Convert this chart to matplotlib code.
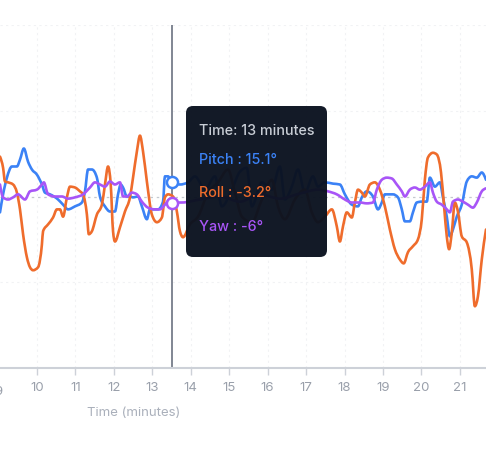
import numpy as np
import matplotlib
matplotlib.use("Agg")
import matplotlib.pyplot as plt
from matplotlib.path import Path
from matplotlib.patches import PathPatch, FancyBboxPatch

plt.rcParams['font.family'] = ['Inter', 'DejaVu Sans']

# time (minutes) / angle (degrees)
pitch_t = [9.04, 9.12, 9.22, 9.35, 9.48, 9.56, 9.66, 9.77, 9.87, 10.00, 10.13, 10.21, 10.34,
           10.55, 10.68, 10.81, 10.99, 11.17, 11.25, 11.33, 11.43, 11.56, 11.64, 11.77, 11.90,
           12.03, 12.11, 12.18, 12.24, 12.34, 12.42, 12.50, 12.63, 12.73, 12.86, 12.94, 13.02,
           13.15, 13.28, 13.33, 13.41, 13.51, 13.72, 13.93, 14.11, 14.37, 14.63, 14.81, 15.07,
           15.28, 15.46, 15.59, 15.85, 16.11, 16.32, 16.45, 16.63, 16.79, 16.97, 17.18, 17.31,
           17.49, 17.70, 17.88, 18.01, 18.19, 18.35, 18.45, 18.58, 18.74, 18.87, 18.97, 19.05,
           19.26, 19.39, 19.49, 19.57, 19.70, 19.78, 19.88, 20.01, 20.14, 20.22, 20.35, 20.48,
           20.56, 20.66, 20.74, 20.82, 20.92, 21.05, 21.18, 21.31, 21.44, 21.57, 21.68]
pitch = [-3.7, 0.5, 4.4, 7.0, 7.0, 8.6, 11.2, 8.1, 6.3, 5.1, 2.8, 0.9, 0.5,
         -0.7, -1.9, -3.0, -2.3, -1.4, 1.2, 6.3, 6.3, 4.4, 0.0, -2.3, -3.5,
         -3.5, 0.5, 2.8, 2.1, 0.0, 0.0, -0.2, 0.0, -2.3, -5.3, -3.0, -3.0,
         -3.0, -1.2, 4.7, 4.7, 3.3, 2.8, 3.3, 4.7, 1.6, 4.7, -2.3, 1.6,
         5.8, 6.7, -2.3, 3.3, 1.6, 7.0, -0.7, 2.3, 6.3, 0.9, 4.7, 2.3,
         3.3, 3.0, 2.8, 0.5, -1.9, -2.3, -0.2, 1.2, 0.0, -3.0, -1.4, 0.5,
         0.5, -0.2, -3.0, -5.8, -5.8, -3.7, -1.4, -1.2, -1.2, 4.4, 2.3, 3.3,
         -0.2, -4.7, -9.3, -7.7, -4.7, -1.9, 3.5, 4.7, 4.4, 5.6, 3.9]

roll_t = [9.04, 9.12, 9.17, 9.25, 9.38, 9.48, 9.56, 9.64, 9.74, 9.82, 9.90, 10.03, 10.13,
          10.16, 10.29, 10.42, 10.52, 10.60, 10.68, 10.78, 10.86, 10.99, 11.12, 11.20, 11.30,
          11.35, 11.43, 11.56, 11.69, 11.77, 11.85, 11.92, 11.98, 12.03, 12.16, 12.29, 12.42,
          12.50, 12.60, 12.68, 12.76, 12.86, 12.99, 13.12, 13.25, 13.33, 13.41, 13.54, 13.64,
          13.72, 13.80, 13.98, 14.19, 14.45, 14.71, 14.97, 15.15, 15.33, 15.59, 15.85, 16.11,
          16.27, 16.45, 16.71, 16.97, 17.15, 17.31, 17.49, 17.67, 17.80, 17.88, 17.96, 18.06,
          18.19, 18.27, 18.35, 18.45, 18.53, 18.66, 18.79, 18.92, 19.05, 19.18, 19.31, 19.44,
          19.54, 19.65, 19.78, 19.91, 20.01, 20.09, 20.17, 20.30, 20.40, 20.51, 20.59, 20.66,
          20.72, 20.79, 20.87, 20.95, 21.05, 21.18, 21.31, 21.39, 21.47, 21.57, 21.68]
roll = [9.3, 6.7, 3.5, 3.3, 2.8, 0.9, -3.0, -8.8, -14.2, -16.5, -17.2, -16.5, -11.2,
        -8.1, -6.5, -4.9, -3.0, -3.0, -4.7, -0.2, 2.3, 2.1, 1.2, 0.5, -4.2,
        -8.8, -8.1, -4.2, -1.9, 2.8, 7.0, 2.8, -8.1, -10.5, -7.2, -3.5, -0.2,
        4.4, 10.5, 14.2, 10.5, 3.5, -4.2, -6.0, -4.9, -0.2, 0.5, 0.0, -3.5,
        -8.1, -9.5, -6.5, -4.7, 0.9, 3.3, 6.3, 0.9, -4.7, -6.0, -0.7, 3.9,
        -2.3, -5.3, -0.7, 1.6, -3.7, -6.0, -4.7, -3.0, -7.0, -10.5, -7.0, -3.7,
        -4.9, -1.4, 1.6, 0.9, 0.0, 2.8, 3.3, 1.6, -2.3, -7.7, -12.3, -14.7,
        -15.6, -13.0, -11.6, -10.0, -5.3, 3.9, 9.1, 10.2, 9.8, 5.6, -2.3, -9.3,
        -12.3, -8.4, -1.4, -3.5, -9.3, -10.7, -17.0, -25.6, -23.3, -14.7, -7.7]

yaw_t = [9.04, 9.12, 9.25, 9.38, 9.51, 9.69, 9.82, 10.00, 10.13, 10.18, 10.29, 10.47, 10.65,
         10.81, 10.99, 11.20, 11.38, 11.51, 11.64, 11.77, 11.90, 12.03, 12.16, 12.24, 12.34,
         12.47, 12.60, 12.73, 12.89, 13.07, 13.20, 13.33, 13.46, 13.51, 13.77, 14.24, 14.76,
         15.28, 15.80, 16.32, 16.84, 17.31, 17.57, 17.80, 18.01, 18.19, 18.40, 18.58, 18.74,
         18.84, 18.97, 19.10, 19.23, 19.36, 19.49, 19.57, 19.70, 19.83, 19.96, 20.09, 20.22,
         20.30, 20.40, 20.53, 20.66, 20.74, 20.82, 20.95, 21.08, 21.21, 21.34, 21.44, 21.57, 21.68]
yaw = [2.8, -0.2, -0.7, -0.2, 0.5, -0.7, 1.2, 1.6, 2.8, 3.3, 0.5, 0.0, 0.0,
       -0.5, -0.2, 0.5, 2.1, 3.3, 2.8, 2.3, 3.5, 2.8, 3.3, 0.0, 0.0,
       0.9, 0.5, -1.2, -2.6, -3.0, -3.0, -1.9, -0.7, -1.4, -1.4, -0.7, 0.0,
       -1.2, 0.5, -0.5, 0.7, 1.6, 1.2, 0.5, -0.7, -1.4, -1.4, -1.6, -1.4,
       1.6, 3.9, 4.4, 4.2, 2.8, 1.2, 0.0, 1.6, 2.1, 1.6, 2.3, 3.3,
       0.9, -1.2, -1.9, -3.0, -3.7, -1.2, -0.7, -1.2, -1.9, -2.6, -1.4, 1.2, 1.9]

hover_time = 13.51
tooltip_lines = ["Time: 13 minutes", "Pitch : 15.1°", "Roll : -3.2°", "Yaw : -6°"]

c_pitch = '#3b82f6'
c_roll = '#ef6c2c'
c_yaw = '#a855f7'


def monotone_path(x, y):
    # monotone-x cubic curve, same idea as d3.curveMonotoneX
    x = np.asarray(x, float)
    y = np.asarray(y, float)
    h = np.diff(x)
    s = np.diff(y) / h
    m = np.zeros_like(y)
    for i in range(1, len(x) - 1):
        p = (s[i - 1] * h[i] + s[i] * h[i - 1]) / (h[i - 1] + h[i])
        m[i] = (np.sign(s[i - 1]) + np.sign(s[i])) * min(abs(s[i - 1]), abs(s[i]), 0.5 * abs(p))
    m[0] = (3 * s[0] - m[1]) / 2
    m[-1] = (3 * s[-1] - m[-2]) / 2
    verts = [(x[0], y[0])]
    codes = [Path.MOVETO]
    for i in range(len(x) - 1):
        d = h[i] / 3
        verts += [(x[i] + d, y[i] + m[i] * d), (x[i + 1] - d, y[i + 1] - m[i + 1] * d), (x[i + 1], y[i + 1])]
        codes += [Path.CURVE4] * 3
    return Path(verts, codes)


fig = plt.figure(figsize=(4.86, 4.53), dpi=100)
ax = fig.add_axes([0, 85 / 453, 1, 343 / 453])
ax.set_xlim(9.04, 21.68)
ax.set_ylim(-40, 40)

# faint dotted grid
for gy in [-20, 20, 40]:
    ax.axhline(gy, color='#f1f2f4', lw=0.8, ls=(0, (2, 3)), zorder=0)
ax.axhline(0, color='#c4c8cf', lw=0.9, ls=(0, (2, 3)), zorder=0)
for gx in range(10, 22):
    ax.axvline(gx, color='#f1f2f4', lw=0.8, ls=(0, (2, 3)), zorder=0)

for t, v, c in [(pitch_t, pitch, c_pitch), (roll_t, roll, c_roll), (yaw_t, yaw, c_yaw)]:
    ax.add_patch(PathPatch(monotone_path(t, v), fill=False, edgecolor=c, lw=1.9,
                           capstyle='round', joinstyle='round', zorder=3))

ax.axvline(hover_time, color='#6b7280', lw=1.2, zorder=2)
for t, v, c in [(pitch_t, pitch, c_pitch), (yaw_t, yaw, c_yaw)]:
    ax.plot([hover_time], [np.interp(hover_time, t, v)], 'o', ms=8, mfc='white',
            mec=c, mew=1.8, zorder=4)

for side in ['left', 'right', 'top']:
    ax.spines[side].set_visible(False)
ax.spines['bottom'].set_color('#cdd1d8')
ax.spines['bottom'].set_linewidth(1.5)
ax.set_yticks([])
ax.set_xticks(range(10, 22))
ax.tick_params(axis='x', colors='#cdd1d8', length=5, width=1, pad=5,
               labelsize=9.5, labelcolor='#9aa0ab')
# the "9" label sits half outside the left edge
ax.text(9, -0.07, "9", transform=ax.get_xaxis_transform(), ha='center', va='center',
        fontsize=9.5, color='#9aa0ab', clip_on=False)

fig.text(134 / 486, 1 - 413 / 453, "Time (minutes)", ha='center', va='center',
         fontsize=9.5, color='#aab0bb')

# tooltip
box = FancyBboxPatch((1.86, 1.96), 1.41, 1.51, boxstyle='round,pad=0,rounding_size=0.07',
                     transform=fig.dpi_scale_trans, facecolor='#0b1220', edgecolor='none',
                     alpha=0.97, zorder=5)
fig.patches.append(box)
tip_colors = ['#c9ced6', c_pitch, c_roll, c_yaw]
tip_y = [131, 160, 193, 227]
for txt, c, yy in zip(tooltip_lines, tip_colors, tip_y):
    fig.text(1.99, (453 - yy) / 100, txt, transform=fig.dpi_scale_trans, ha='left',
             va='center', fontsize=10.3, fontweight='medium', color=c, zorder=6)

fig.savefig('out.png', dpi=100)
